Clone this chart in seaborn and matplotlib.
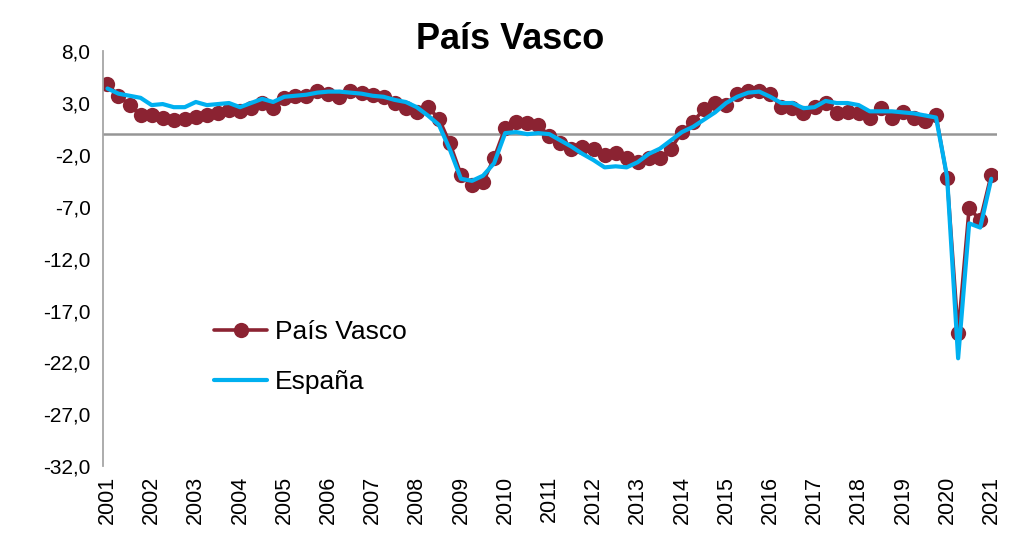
import seaborn as sns
import matplotlib.pyplot as plt
import pandas as pd
import numpy as np

# quarterly series, 2001Q1 .. 2021Q1
years = list(range(2001, 2022))
pais_vasco = [
    4.8, 3.7, 2.8, 1.8,
    1.8, 1.6, 1.35, 1.5,
    1.7, 1.8, 2.0, 2.3,
    2.2, 2.5, 3.0, 2.5,
    3.5, 3.7, 3.7, 4.2,
    3.9, 3.6, 4.2, 4.0,
    3.8, 3.6, 3.0, 2.5,
    2.1, 2.6, 1.5, -0.9,
    -3.9, -4.9, -4.6, -2.3,
    0.6, 1.2, 1.1, 0.9,
    -0.2, -0.9, -1.4, -1.2,
    -1.4, -2.0, -1.8, -2.3,
    -2.7, -2.3, -2.3, -1.4,
    0.2, 1.2, 2.4, 3.0,
    2.8, 3.9, 4.2, 4.2,
    3.9, 2.6, 2.5, 2.0,
    2.6, 3.0, 2.0, 2.1,
    2.0, 1.6, 2.5, 1.6,
    2.1, 1.6, 1.3, 1.8,
    -4.2, -19.2, -7.1, -8.3,
    -3.9,
]
espana = [
    4.4, 3.9, 3.7, 3.5,
    2.8, 2.9, 2.6, 2.6,
    3.1, 2.8, 2.9, 3.0,
    2.6, 3.0, 3.4, 3.1,
    3.6, 3.7, 3.8, 4.0,
    4.1, 4.1, 4.0, 3.9,
    3.7, 3.6, 3.3, 3.1,
    2.6, 1.8, 0.9, -1.5,
    -4.3, -4.5, -4.0, -2.8,
    0.1, 0.2, 0.0, 0.1,
    0.0, -0.6, -1.2, -1.9,
    -2.5, -3.2, -3.1, -3.2,
    -2.7, -1.9, -1.4, -0.6,
    0.2, 0.7, 1.4, 2.1,
    3.0, 3.6, 4.0, 4.1,
    3.6, 3.0, 3.0, 2.5,
    2.6, 3.2, 3.0, 3.0,
    2.8, 2.2, 2.2, 2.2,
    2.1, 2.0, 1.8, 1.6,
    -4.1, -21.6, -8.6, -9.0,
    -4.3,
]
y_ticks = [8, 3, -2, -7, -12, -17, -22, -27, -32]

df = pd.DataFrame({"q": np.arange(len(pais_vasco)),
                   "País Vasco": pais_vasco, "España": espana})

sns.set_style("white")
plt.rcParams["font.family"] = ["Liberation Sans", "DejaVu Sans"]
plt.rcParams["text.color"] = "black"
plt.rcParams["xtick.color"] = "black"
plt.rcParams["ytick.color"] = "black"

fig = plt.figure(figsize=(10.13, 5.44), dpi=100)
ax = fig.add_axes([0.1017, 0.143, 0.8823, 0.763])

red = "#8B2332"
blue = "#00B0F0"

ax.axhline(0, color="#969696", lw=1.8, zorder=1)
sns.lineplot(data=df, x="q", y="País Vasco", ax=ax, color=red, lw=2.6,
             marker="o", markersize=11, markeredgewidth=0, label="País Vasco", zorder=2)
sns.lineplot(data=df, x="q", y="España", ax=ax, color=blue, lw=3,
             label="España", zorder=3)

ax.set_xlim(-0.4, 80.5)
ax.set_ylim(-32, 8)
ax.set_yticks(y_ticks)
ax.set_yticklabels([f"{v:.1f}".replace(".", ",") for v in y_ticks], fontsize=15)
ax.set_xticks([4 * i for i in range(len(years))])
ax.set_xticklabels([str(y) for y in years], rotation=90, fontsize=15.5)
ax.set_xlabel("")
ax.set_ylabel("")
ax.tick_params(axis="y", direction="in", length=5, color="#A6A6A6", pad=9)
ax.tick_params(axis="x", length=0, pad=7)

for s in ["top", "right", "bottom"]:
    ax.spines[s].set_visible(False)
ax.spines["left"].set_color("#A6A6A6")
ax.spines["left"].set_linewidth(1.3)

fig.text(0.504, 0.927, "País Vasco", ha="center", va="center",
         fontsize=26, fontweight="bold")

ax.legend(loc="upper left", bbox_to_anchor=(0.098, 0.41), frameon=False,
          fontsize=19, handlelength=2.0, labelspacing=1.0, handletextpad=0.3)

fig.savefig("out.png", dpi=100)
plt.close()
